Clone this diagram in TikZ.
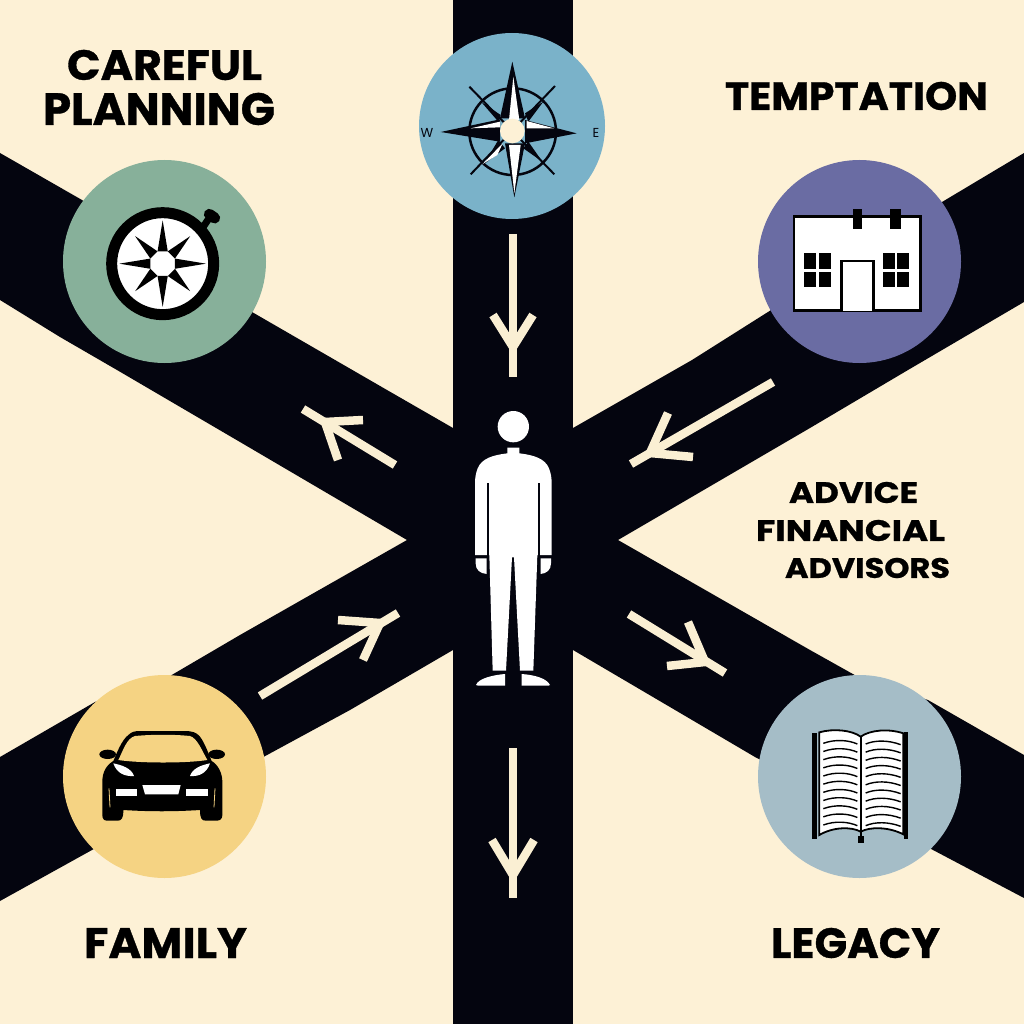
\documentclass[tikz,border=0pt]{standalone}
\usepackage{graphicx}
\usepackage{fontspec}
\setmainfont{Poppins}[BoldFeatures={FakeBold=0.8}]
\definecolor{paper}{HTML}{FDF1D6}
\definecolor{road}{HTML}{04050F}
\definecolor{arrowcream}{HTML}{FAEFD3}
\definecolor{compassblue}{HTML}{7AB2C9}
\definecolor{plangreen}{HTML}{87B09A}
\definecolor{housepurple}{HTML}{6A6CA3}
\definecolor{caryellow}{HTML}{F5D383}
\definecolor{bookgrey}{HTML}{A5BDC7}
\newcommand{\fitline}[3]{\resizebox{#1pt}{#2pt}{#3}}
\tikzset{
  disc/.style={
    circle,
    minimum size=203pt,
    inner sep=0pt,
    outer sep=0pt
  },
  roadlabel/.style={
    font=\bfseries,
    inner sep=0pt,
    text=black
  },
  compassletter/.style={
    font=\fontsize{13}{13}\selectfont,
    inner sep=0pt,
    text=road
  },
  roadarrow/.style={
    draw=arrowcream,
    line width=8.5pt
  }
}

\begin{document}
\begin{tikzpicture}[x=1pt,y=-1pt]
    \useasboundingbox (0,0) rectangle (1024,1024);
    \fill[paper] (0,0) rectangle (1024,1024);

    \fill[road] (453,0) rectangle (573,1024);
    \fill[road] (0,153) -- (82,200) -- (170,264) -- (252,312) -- (387,390) -- (453,428) -- (573,428)
        -- (692,360) -- (942,202) -- (1024,153) -- (1024,302) -- (908,370) -- (810,428)
        -- (618,540) -- (810,650) -- (860,678) -- (928,700) -- (1024,755) -- (1024,898) -- (933,850)
        -- (755,757) -- (573,650) -- (453,650) -- (350,710) -- (92,850) -- (0,901)
        -- (0,757) -- (95,702) -- (170,676) -- (240,635) -- (407,540) -- (240,442) -- (117,370)
        -- (60,337) -- (0,300) -- cycle;

    \foreach \name/\tail/\tip/\join/\barbA/\barbB in {
        north/{513,234}/{513,377}/{513,347}/{493,315}/{533,315},
        south/{513,748}/{513,898}/{513,875}/{492,840}/{534,840},
        plan/{395,465}/{303,409}/{325,422}/{363,420}/{338,460},
        family/{260,696}/{398,613}/{380,623}/{338,620}/{363,660},
        house/{773,382}/{631,464}/{650,453}/{668,413}/{693,457},
        book/{629,614}/{725,673}/{705,662}/{688,622}/{667,666}} {
      \coordinate (\name tail) at (\tail);
      \coordinate (\name tip) at (\tip);
      \coordinate (\name join) at (\join);
      \coordinate (\name barbA) at (\barbA);
      \coordinate (\name barbB) at (\barbB);
      \draw[roadarrow] (\name tail) -- (\name tip);
      \draw[roadarrow] (\name barbA) -- (\name join) -- (\name barbB);
    }

    \node[disc,minimum size=186pt,fill=compassblue] (compass) at (512,126) {};
    \node[disc,fill=plangreen] (plan) at (164.5,261.5) {};
    \node[disc,fill=housepurple] (house) at (859.5,261.5) {};
    \node[disc,fill=caryellow] (car) at (164.5,776.5) {};
    \node[disc,fill=bookgrey] (book) at (859.5,776.5) {};

    \node[roadlabel] (careful) at (164.5,65) {\fitline{195}{30}{CAREFUL}};
    \node[roadlabel] (planning) at (159,109) {\fitline{232}{32}{PLANNING}};
    \node[roadlabel] (temptation) at (856.5,96) {\fitline{263}{28}{TEMPTATION}};
    \node[roadlabel] (advice) at (853.5,492.5) {\fitline{129}{21}{ADVICE}};
    \node[roadlabel] (financial) at (850.5,530.5) {\fitline{189}{21}{FINANCIAL}};
    \node[roadlabel] (advisors) at (867.5,568) {\fitline{165}{20}{ADVISORS}};
    \node[roadlabel] (familylabel) at (165.5,943) {\fitline{163}{30}{FAMILY}};
    \node[roadlabel] (legacy) at (855.5,943) {\fitline{169}{30}{LEGACY}};
    \node[compassletter] (west) at (427,133) {W};
    \node[compassletter] (east) at (596,133) {E};

    \begin{scope}[shift={(410,60)},scale=1/3]
      \draw[road,line width=2.5pt] (308,215) circle (130);
      \draw[road,line width=2pt] (178,80) -- (433,343);
      \draw[road,line width=2pt] (435,78) -- (182,343);
      \fill[road] (213,125) -- (272,165) -- (265,185) -- cycle;
      \fill[road] (400,125) -- (345,160) -- (355,185) -- cycle;
      \fill[road] (222,312) -- (265,240) -- (285,265) -- cycle;
      \fill[road] (397,305) -- (340,265) -- (355,245) -- cycle;
      \fill[road] (307,5) -- (345,175) -- (270,175) -- cycle;
      \fill[road] (313,412) -- (345,250) -- (285,250) -- cycle;
      \fill[road] (92,216) -- (270,178) -- (270,245) -- cycle;
      \fill[road] (500,220) -- (345,180) -- (345,250) -- cycle;
      \fill[white] (310,50) -- (328,180) -- (297,180) -- cycle;
      \fill[white] (313,400) -- (332,255) -- (297,255) -- cycle;
      \fill[white] (182,205) -- (270,185) -- (270,202) -- cycle;
      \fill[white] (350,183) -- (432,205) -- (350,205) -- cycle;
      \fill[white] (218,312) -- (278,250) -- (262,285) -- cycle;
      \fill[paper] (307,213) circle (37);
    \end{scope}

    \begin{scope}[shift={(60,160)},scale=1/3]
      \draw[black,line width=7pt] (430,200) -- (445,178);
      \draw[black,line width=11pt,line cap=round] (448,163) -- (464,174);
      \draw[black,fill=white,line width=11pt] (308,311) circle (153);
      \begin{scope}[shift={(308,311)}]
        \foreach \a in {0,90,180,270} {
          \fill[black] (\a:130) -- (\a+22.5:40) -- (\a-22.5:40) -- cycle;
        }
        \foreach \a in {45,135,225,315} {
          \fill[black] (\a:117) -- (\a+22.5:40) -- (\a-22.5:40) -- cycle;
        }
        \fill[white] (0,0) circle (33);
      \end{scope}
    \end{scope}

    \begin{scope}[shift={(755,160)},scale=1/3]
      \draw[black,fill=white,line width=2.7pt] (117,170) rectangle (497,452);
      \fill[black] (293,148) rectangle (322,207);
      \fill[black] (406,148) rectangle (437,207);
      \foreach \wx in {147,383} {
        \fill[black] (\wx,280) rectangle (\wx+80,382);
        \draw[white,line width=2.5pt] (\wx+40,280) -- (\wx+40,382);
        \draw[white,line width=2.5pt] (\wx,331) -- (\wx+80,331);
      }
      \draw[black,fill=white,line width=2.7pt] (260,452) -- (260,303) -- (355,303) -- (355,452);
    \end{scope}

    \begin{scope}[shift={(60,675)},scale=1/3]
      \fill[black] (127,320) .. controls (127,290) and (140,270) .. (160,258)
        .. controls (170,235) and (185,195) .. (205,180)
        .. controls (215,170) and (225,168) .. (240,168) -- (375,168)
        .. controls (395,168) and (410,172) .. (420,185)
        .. controls (435,205) and (445,235) .. (455,258)
        .. controls (475,270) and (487,295) .. (487,320) -- (487,420)
        .. controls (487,432) and (480,437) .. (470,437) -- (437,437)
        .. controls (425,437) and (420,430) .. (420,405)
        .. controls (340,410) and (270,410) .. (190,405)
        .. controls (190,430) and (185,437) .. (173,437) -- (142,437)
        .. controls (132,437) and (127,432) .. (127,420) -- cycle;
      \fill[caryellow] (175,255) .. controls (190,225) and (200,190) .. (225,183)
        .. controls (280,178) and (340,178) .. (390,183)
        .. controls (412,190) and (425,225) .. (442,255)
        .. controls (380,265) and (240,265) .. (175,255) -- cycle;
      \fill[black] (143,238) ellipse (25 and 14);
      \fill[black] (470,238) ellipse (25 and 14);
      \fill[white] (160,265) .. controls (185,270) and (215,280) .. (222,303)
        .. controls (195,305) and (170,295) .. (160,265) -- cycle;
      \fill[white] (450,265) .. controls (425,270) and (397,280) .. (390,303)
        .. controls (417,305) and (440,295) .. (450,265) -- cycle;
      \fill[white] (247,330) -- (362,330) -- (355,358) -- (255,358) -- cycle;
      \fill[white] (167,343) rectangle (232,362);
      \fill[white] (378,343) rectangle (443,362);
      \draw[caryellow,line width=0.8pt] (147,340) -- (150,397);
      \draw[caryellow,line width=0.8pt] (465,340) -- (462,397);
    \end{scope}

    \begin{scope}[shift={(755,675)},scale=1/3]
      \fill[black] (170,175) rectangle (187,492);
      \fill[black] (447,172) rectangle (460,492);
      \draw[black,fill=white,line width=1.8pt] (193,172) .. controls (235,160) and (290,165) .. (317,185)
        .. controls (345,165) and (400,160) .. (445,175) -- (445,478)
        .. controls (400,455) and (345,455) .. (317,470)
        .. controls (290,455) and (235,455) .. (193,480) -- cycle;
      \draw[black,line width=1.8pt] (317,185) -- (317,490);
      \fill[black] (310,482) rectangle (328,505);
      \foreach \y in {0,...,10} {
        \draw[black,line width=1.4pt,shift={(0,\y*24.5)}] (205,205) .. controls (240,192) and (280,195) .. (307,207);
        \draw[black,line width=1.4pt,shift={(0,\y*24.5)}] (332,207) .. controls (360,195) and (400,195) .. (437,209);
      }
    \end{scope}

    \begin{scope}[shift={(450,400)},scale=1/3]
      \fill[white] (190,80) circle (47);
      \fill[white] (172,143) -- (208,143) -- (208,160)
        .. controls (250,165) and (285,175) .. (297,205)
        .. controls (303,220) and (305,235) .. (305,250) -- (305,465) -- (262,465)
        -- (250,812) -- (210,812) -- (192,472) -- (186,472) -- (168,812) -- (128,812)
        -- (118,465) -- (75,465) -- (75,250)
        .. controls (75,235) and (77,220) .. (83,205)
        .. controls (95,175) and (130,165) .. (172,160) -- cycle;
      \draw[road,line width=2.3pt] (113,250) -- (113,470);
      \draw[road,line width=2.3pt] (267,250) -- (267,470);
      \fill[white] (77,475) -- (110,475) -- (110,522)
        .. controls (90,520) and (77,510) .. (77,490) -- cycle;
      \fill[white] (272,475) -- (303,475) -- (303,490)
        .. controls (303,510) and (290,520) .. (272,522) -- cycle;
      \fill[white] (78,855) .. controls (85,835) and (130,825) .. (165,822) -- (165,857) -- (85,857) -- cycle;
      \fill[white] (215,822) .. controls (255,825) and (290,835) .. (300,855) -- (295,857) -- (215,857) -- cycle;
    \end{scope}
\end{tikzpicture}
\end{document}
